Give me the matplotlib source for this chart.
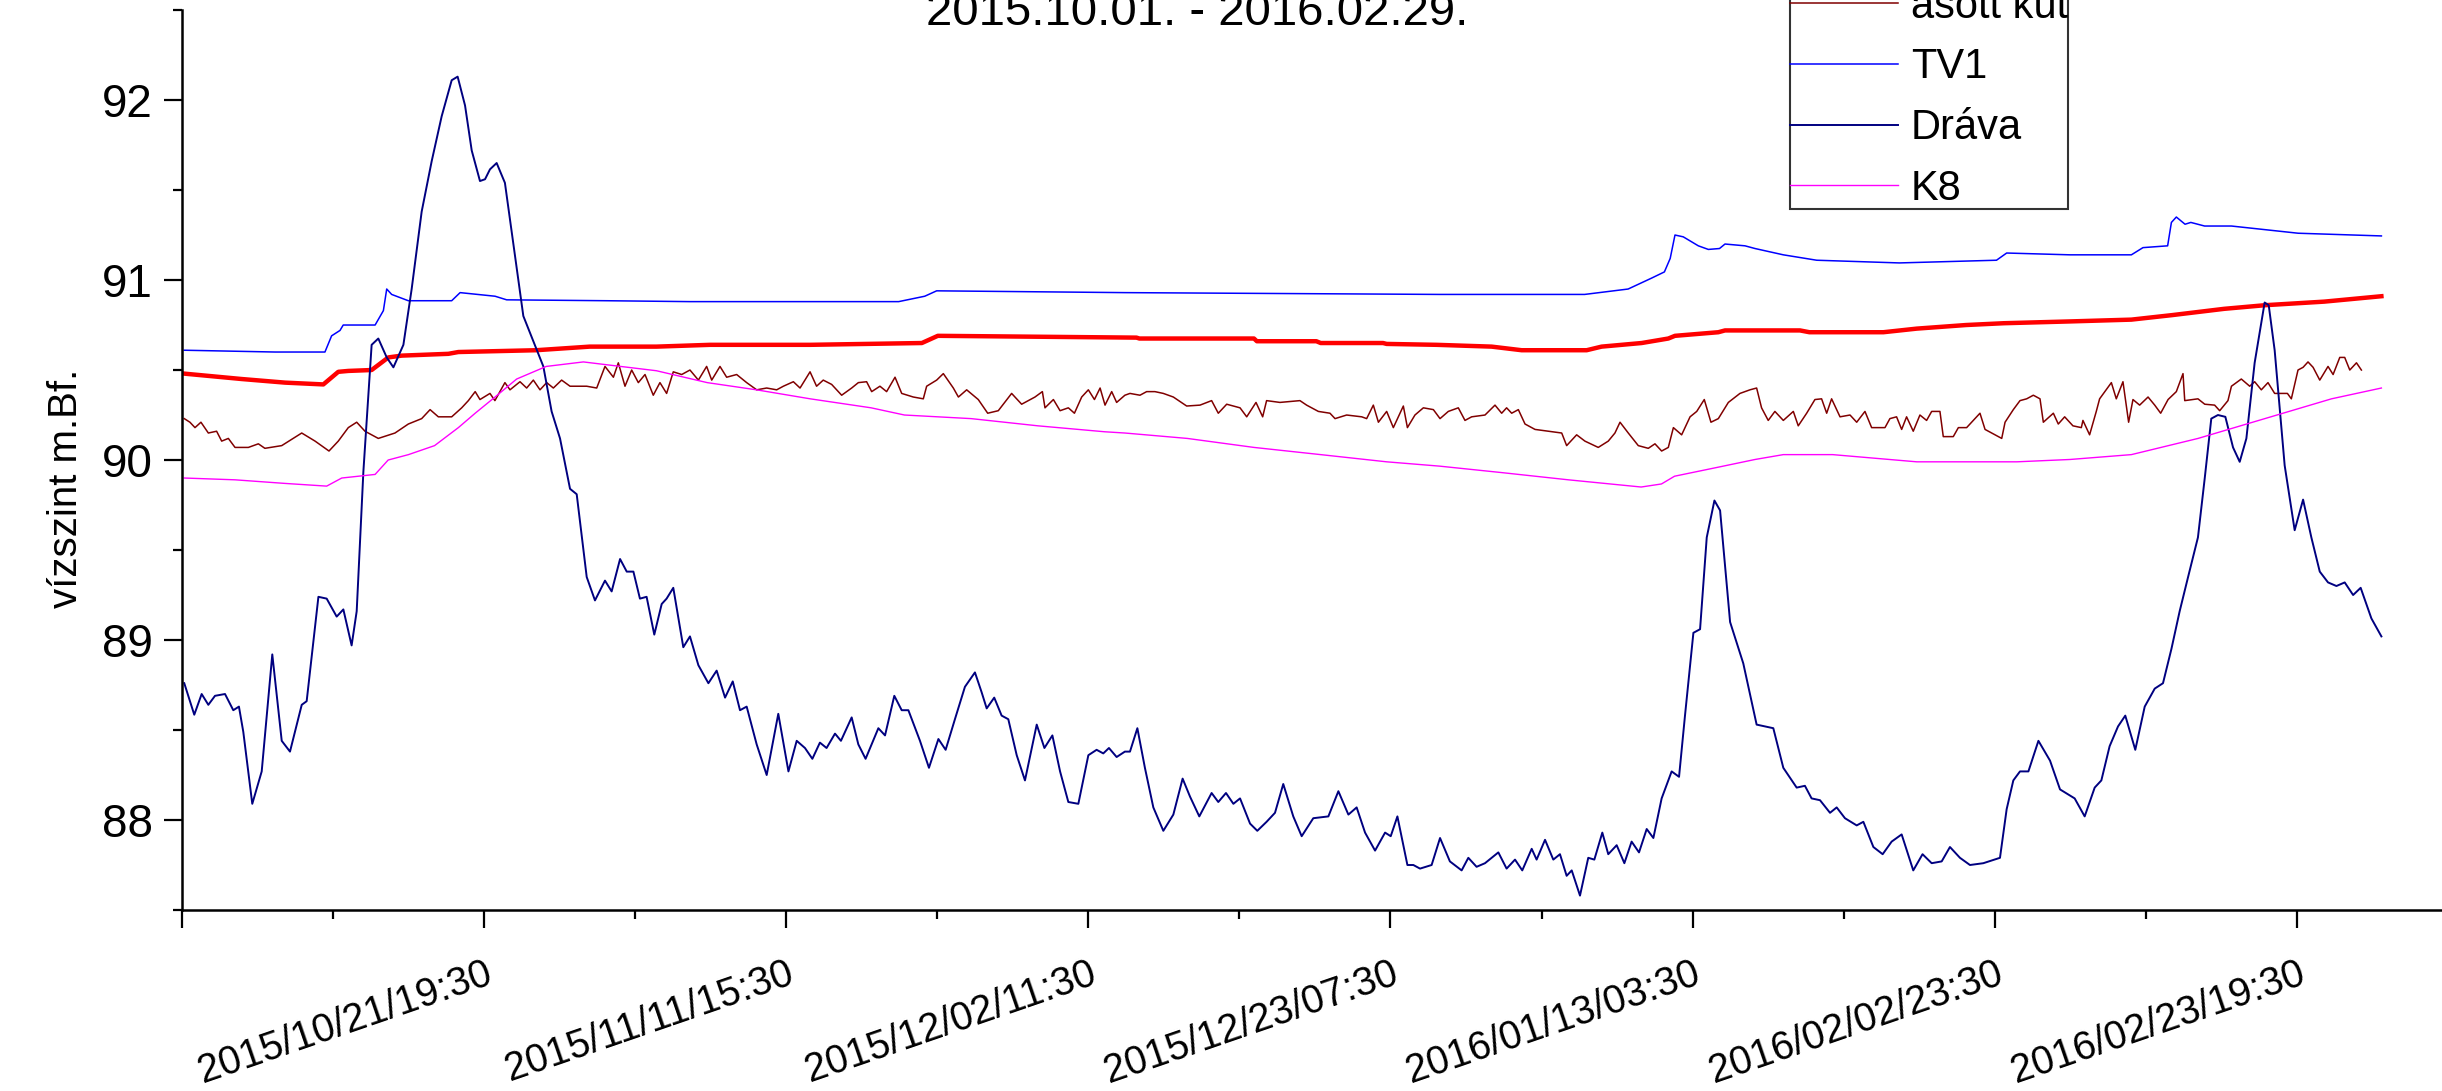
import matplotlib
matplotlib.use("Agg")
import matplotlib.pyplot as plt
import pandas as pd

plt.rcParams['font.family'] = ['Liberation Sans', 'DejaVu Sans']

start = pd.Timestamp("2015-10-01 00:00")

# Dráva - napok a kezdettől, vízszint (m.Bf.)
drava_nap = [0.14, 0.83, 1.34, 1.8, 2.26, 2.95, 3.52, 3.91, 4.21, 4.83, 5.48, 6.21, 6.86, 7.43, 8.24, 8.58,
             9.39, 9.96, 10.65, 11.11, 11.68, 12.03, 12.49, 13.06, 13.52, 14.1, 14.56, 15.25, 15.82, 16.51,
             17.2, 17.89, 18.58, 18.99, 19.5, 19.96, 20.53, 20.88, 21.22, 21.68, 22.25, 22.83, 23.52, 24.21,
             24.9, 25.47, 26.05, 26.74, 27.2, 27.89, 28.46, 29.15, 29.61, 30.19, 30.65, 31.11, 31.56, 32.02,
             32.55, 33.06, 33.4, 33.86, 34.55, 35.01, 35.59, 36.28, 36.85, 37.43, 37.96, 38.46, 38.92, 39.61,
             40.3, 41.1, 41.8, 42.37, 42.94, 43.45, 43.97, 44.43, 45.01, 45.42, 46.16, 46.62, 47.12, 48.0,
             48.46, 49.1, 49.61, 50.07, 50.87, 51.49, 52.14, 52.64, 53.28, 53.97, 54.66, 55.12, 55.47, 55.99,
             56.5, 56.96, 57.54, 58.11, 58.92, 59.45, 60.0, 60.53, 61.1, 61.79, 62.48, 63.05, 63.51, 63.9,
             64.43, 65.0, 65.35, 65.86, 66.38, 66.96, 67.65, 68.34, 68.98, 69.49, 70.13, 70.98, 71.44, 71.97,
             72.48, 72.94, 73.63, 74.13, 74.77, 75.35, 75.92, 76.61, 77.19, 77.99, 79.03, 79.72, 80.41, 80.98,
             81.56, 82.25, 82.94, 83.33, 83.79, 84.48, 84.89, 85.35, 86.15, 86.73, 87.41, 88.22, 88.68, 89.25,
             89.83, 90.75, 91.32, 91.9, 92.4, 93.05, 93.39, 93.97, 94.54, 95.0, 95.46, 95.81, 96.38, 96.95,
             97.37, 97.92, 98.33, 98.91, 99.44, 99.94, 100.45, 100.98, 101.44, 102.01, 102.7, 103.21, 103.62,
             104.2, 104.66, 105.12, 105.65, 106.04, 106.73, 107.64, 108.1, 108.56, 109.71, 110.4, 111.32,
             111.89, 112.35, 112.93, 113.62, 114.08, 114.65, 115.46, 115.92, 116.61, 117.25, 117.87, 118.56,
             119.36, 120.0, 120.63, 121.32, 121.89, 122.58, 123.27, 124.19, 125.34, 125.8, 126.26, 126.72,
             127.3, 127.99, 128.79, 129.48, 130.49, 131.18, 131.87, 132.33, 132.9, 133.48, 133.98, 134.67,
             135.32, 136.01, 136.58, 137.16, 137.73, 138.31, 138.99, 139.46, 139.91, 140.37, 140.88, 141.41,
             141.87, 142.33, 142.9, 143.59, 143.87, 144.28, 144.97, 145.66, 146.24, 146.81, 147.39, 147.96,
             148.54, 149.11, 149.69, 150.21, 150.95, 151.64]
drava_szint = [88.76, 88.585, 88.70, 88.64, 88.69, 88.70, 88.61, 88.63, 88.49, 88.09, 88.27, 88.92, 88.44, 88.38,
               88.64, 88.66, 89.24, 89.23, 89.13, 89.17, 88.97, 89.16, 89.935, 90.64, 90.675, 90.57, 90.515,
               90.64, 90.95, 91.38, 91.66, 91.91, 92.11, 92.13, 91.97, 91.72, 91.55, 91.56, 91.615, 91.65,
               91.54, 91.20, 90.80, 90.66, 90.52, 90.27, 90.12, 89.84, 89.81, 89.35, 89.22, 89.33, 89.27,
               89.45, 89.38, 89.38, 89.23, 89.24, 89.03, 89.20, 89.23, 89.29, 88.96, 89.02, 88.86, 88.76,
               88.83, 88.68, 88.77, 88.61, 88.63, 88.42, 88.25, 88.59, 88.27, 88.44, 88.40, 88.34, 88.43,
               88.40, 88.48, 88.44, 88.57, 88.42, 88.34, 88.51, 88.47, 88.69, 88.61, 88.61, 88.44, 88.29,
               88.45, 88.39, 88.56, 88.74, 88.82, 88.71, 88.62, 88.68, 88.58, 88.56, 88.36, 88.22, 88.53,
               88.40, 88.47, 88.27, 88.10, 88.09, 88.36, 88.39, 88.37, 88.40, 88.35, 88.38, 88.38, 88.51,
               88.29, 88.07, 87.94, 88.03, 88.23, 88.13, 88.02, 88.15, 88.10, 88.15, 88.09, 88.12, 87.98,
               87.94, 87.99, 88.04, 88.20, 88.02, 87.91, 88.01, 88.02, 88.16, 88.03, 88.07, 87.93, 87.83,
               87.93, 87.91, 88.02, 87.75, 87.75, 87.73, 87.75, 87.90, 87.77, 87.72, 87.79, 87.74, 87.76,
               87.82, 87.73, 87.78, 87.72, 87.84, 87.78, 87.89, 87.78, 87.81, 87.69, 87.72, 87.58, 87.79,
               87.78, 87.93, 87.81, 87.86, 87.76, 87.88, 87.82, 87.95, 87.90, 88.12, 88.27, 88.24, 88.58,
               89.04, 89.06, 89.57, 89.775, 89.72, 89.10, 88.87, 88.70, 88.53, 88.51, 88.29, 88.18, 88.19,
               88.12, 88.11, 88.04, 88.07, 88.01, 87.97, 87.99, 87.85, 87.81, 87.88, 87.92, 87.72, 87.81,
               87.76, 87.77, 87.85, 87.79, 87.75, 87.76, 87.79, 88.06, 88.22, 88.27, 88.27, 88.44, 88.33,
               88.17, 88.12, 88.02, 88.18, 88.22, 88.41, 88.52, 88.58, 88.39, 88.63, 88.73, 88.76, 88.95,
               89.16, 89.35, 89.57, 89.90, 90.23, 90.25, 90.24, 90.07, 89.99, 90.12, 90.54, 90.875, 90.86,
               90.61, 89.97, 89.61, 89.78, 89.57, 89.38, 89.32, 89.30, 89.32, 89.25, 89.29, 89.12, 89.02]

# TV1
tv1_nap = [0.14, 6.4, 9.84, 10.3, 10.88, 11.1, 13.3, 13.87, 14.1, 14.44, 15.59, 18.58, 19.16, 21.57, 22.37,
           29.27, 35.0, 43.3, 49.4, 51.2, 52.02, 65.0, 86.7, 96.7, 99.7, 101.3, 102.2, 102.6, 102.93, 103.5,
           104.54, 105.23, 106.0, 106.38, 107.76, 108.45, 110.4, 112.7, 118.4, 125.1, 125.8, 130.17, 134.4,
           135.2, 136.9, 137.16, 137.5, 138.1, 138.5, 139.45, 141.3, 143.6, 145.9, 151.64]
tv1_szint = [90.61, 90.60, 90.60, 90.69, 90.72, 90.75, 90.75, 90.83, 90.95, 90.92, 90.885, 90.885, 90.93,
             90.91, 90.89, 90.885, 90.88, 90.88, 90.88, 90.91, 90.94, 90.93, 90.92, 90.92, 90.95, 91.01,
             91.045, 91.12, 91.25, 91.24, 91.19, 91.17, 91.175, 91.20, 91.19, 91.175, 91.14, 91.11, 91.095,
             91.11, 91.15, 91.14, 91.14, 91.18, 91.19, 91.32, 91.35, 91.31, 91.32, 91.30, 91.30, 91.28,
             91.26, 91.245]

# piros vastag vonal (a jelmagyarázatban kivágott sor)
furt_nap = [0.14, 4.1, 7.09, 9.73, 10.76, 11.45, 13.06, 14.21, 15.13, 18.35, 19.04, 24.4, 28.1, 32.7, 36.4,
            43.3, 51.0, 52.1, 65.8, 66.0, 73.9, 74.1, 78.2, 78.5, 82.8, 83.05, 86.5, 90.29, 92.36, 96.84,
            97.87, 100.63, 102.47, 102.93, 105.92, 106.38, 111.55, 112.2, 117.3, 119.6, 123.0, 125.6,
            130.17, 134.4, 137.2, 140.8, 143.6, 147.7, 151.64]
furt_szint = [90.48, 90.45, 90.43, 90.42, 90.49, 90.495, 90.50, 90.57, 90.58, 90.59, 90.60, 90.61, 90.63,
              90.63, 90.64, 90.64, 90.65, 90.69, 90.68, 90.675, 90.675, 90.66, 90.66, 90.65, 90.65, 90.645,
              90.64, 90.63, 90.61, 90.61, 90.63, 90.65, 90.675, 90.69, 90.71, 90.72, 90.72, 90.71, 90.71,
              90.73, 90.75, 90.76, 90.77, 90.78, 90.805, 90.84, 90.86, 90.88, 90.91]

# K8
k8_nap = [0.14, 3.64, 7.09, 9.96, 11.0, 13.3, 14.2, 15.6, 17.4, 19.04, 20.2, 21.57, 23.06, 25.1, 27.66, 29.5,
          32.7, 36.2, 39.6, 43.3, 47.5, 49.8, 54.4, 59.0, 63.6, 65.0, 69.3, 73.9, 78.5, 83.05, 86.7, 91.0,
          95.58, 100.6, 102.0, 102.9, 105.9, 108.45, 110.4, 113.8, 119.6, 126.5, 130.17, 134.4, 139.0, 143.6,
          148.2, 151.64]
k8_szint = [89.90, 89.89, 89.87, 89.855, 89.90, 89.92, 90.00, 90.03, 90.08, 90.18, 90.26, 90.35, 90.45, 90.52,
            90.545, 90.527, 90.496, 90.43, 90.39, 90.34, 90.29, 90.25, 90.23, 90.19, 90.157, 90.15, 90.12,
            90.07, 90.03, 89.99, 89.966, 89.93, 89.89, 89.85, 89.867, 89.91, 89.96, 90.003, 90.03, 90.03,
            89.99, 89.99, 90.003, 90.03, 90.12, 90.23, 90.34, 90.40]

# ásott kút
asott_nap = [0.14, 0.53, 0.88, 1.29, 1.8, 2.37, 2.72, 3.18, 3.64, 4.56, 5.25, 5.7, 6.86, 8.24, 9.16, 10.12,
             10.76, 11.45, 12.03, 12.6, 13.52, 14.67, 15.59, 16.51, 17.09, 17.66, 18.58, 19.27, 19.73, 20.2,
             20.53, 21.22, 21.56, 22.25, 22.6, 23.29, 23.75, 24.21, 24.67, 25.13, 25.59, 26.16, 26.74, 27.89,
             28.58, 29.15, 29.73, 30.07, 30.53, 30.99, 31.45, 31.91, 32.48, 32.94, 33.4, 33.86, 34.44, 35.01,
             35.59, 36.16, 36.51, 37.08, 37.54, 38.23, 38.92, 39.61, 40.3, 40.99, 41.45, 42.14, 42.6, 43.29,
             43.74, 44.2, 44.78, 45.47, 46.16, 46.62, 47.19, 47.54, 48.11, 48.57, 49.15, 49.61, 50.41, 51.1,
             51.33, 52.02, 52.48, 53.17, 53.52, 54.09, 54.89, 55.54, 56.27, 57.19, 57.88, 58.8, 59.31, 59.49,
             60.07, 60.53, 61.1, 61.52, 62.02, 62.48, 62.9, 63.29, 63.63, 64.09, 64.43, 65.0, 65.35, 66.04,
             66.5, 67.07, 67.65, 68.34, 69.26, 70.18, 70.98, 71.44, 72.02, 72.94, 73.4, 74.04, 74.5, 74.77,
             75.69, 77.07, 77.53, 78.34, 79.14, 79.49, 80.29, 81.33, 81.67, 82.13, 82.48, 83.05, 83.51, 84.2,
             84.48, 85.0, 85.58, 86.27, 86.73, 87.3, 87.99, 88.45, 88.91, 89.83, 90.52, 90.98, 91.32, 91.67,
             92.13, 92.59, 93.28, 94.2, 95.12, 95.46, 96.15, 96.72, 97.64, 98.33, 98.79, 99.14, 99.71, 100.4,
             101.09, 101.55, 102.01, 102.47, 102.82, 103.39, 103.97, 104.43, 104.95, 105.41, 105.92, 106.61,
             107.41, 108.1, 108.56, 108.9, 109.36, 109.82, 110.4, 111.09, 111.43, 112.01, 112.58, 113.04,
             113.39, 113.73, 114.31, 115.0, 115.46, 116.03, 116.49, 117.41, 117.75, 118.21, 118.56, 118.9,
             119.36, 119.82, 120.28, 120.63, 121.2, 121.43, 122.12, 122.47, 123.04, 123.5, 123.96, 124.31,
             124.88, 125.46, 125.69, 126.26, 126.72, 127.18, 127.64, 128.1, 128.33, 129.02, 129.36, 129.8,
             130.37, 130.95, 131.06, 131.52, 131.98, 132.21, 133.02, 133.36, 133.82, 134.21, 134.51, 134.97,
             135.55, 136.01, 136.42, 136.93, 137.5, 137.96, 138.08, 138.99, 139.46, 140.14, 140.49, 141.06,
             141.3, 141.98, 142.56, 142.9, 143.36, 143.82, 144.28, 144.74, 145.16, 145.43, 145.89, 146.24,
             146.58, 146.93, 147.39, 147.96, 148.31, 148.77, 149.11, 149.46, 149.92, 150.26]
asott_szint = [90.23, 90.21, 90.18, 90.21, 90.15, 90.16, 90.105, 90.12, 90.07, 90.07, 90.09, 90.065, 90.08,
               90.15, 90.105, 90.05, 90.105, 90.18, 90.21, 90.16, 90.12, 90.15, 90.20, 90.23, 90.28, 90.24,
               90.24, 90.29, 90.33, 90.38, 90.336, 90.37, 90.33, 90.43, 90.39, 90.435, 90.40, 90.444, 90.39,
               90.43, 90.40, 90.444, 90.41, 90.41, 90.40, 90.52, 90.46, 90.54, 90.41, 90.50, 90.43, 90.475,
               90.36, 90.43, 90.37, 90.49, 90.475, 90.50, 90.444, 90.52, 90.444, 90.52, 90.46, 90.475, 90.43,
               90.39, 90.40, 90.39, 90.41, 90.435, 90.40, 90.49, 90.41, 90.444, 90.42, 90.36, 90.40, 90.43,
               90.435, 90.38, 90.41, 90.38, 90.46, 90.37, 90.35, 90.34, 90.41, 90.444, 90.48, 90.40, 90.35,
               90.39, 90.336, 90.26, 90.274, 90.37, 90.31, 90.35, 90.38, 90.29, 90.336, 90.274, 90.29, 90.26,
               90.35, 90.39, 90.336, 90.40, 90.305, 90.38, 90.32, 90.36, 90.37, 90.36, 90.38, 90.38, 90.37,
               90.35, 90.30, 90.305, 90.33, 90.26, 90.31, 90.29, 90.24, 90.32, 90.24, 90.33, 90.32, 90.33,
               90.305, 90.27, 90.26, 90.23, 90.25, 90.24, 90.23, 90.305, 90.21, 90.27, 90.18, 90.30, 90.18,
               90.25, 90.29, 90.28, 90.23, 90.27, 90.29, 90.22, 90.24, 90.25, 90.305, 90.26, 90.29, 90.26,
               90.28, 90.20, 90.17, 90.16, 90.15, 90.08, 90.14, 90.105, 90.07, 90.105, 90.15, 90.21, 90.15,
               90.08, 90.065, 90.09, 90.05, 90.07, 90.18, 90.14, 90.24, 90.27, 90.336, 90.21, 90.23, 90.32,
               90.37, 90.39, 90.40, 90.29, 90.22, 90.27, 90.22, 90.27, 90.19, 90.26, 90.336, 90.34, 90.26,
               90.34, 90.24, 90.25, 90.21, 90.27, 90.18, 90.18, 90.23, 90.24, 90.17, 90.24, 90.16, 90.25,
               90.22, 90.27, 90.27, 90.13, 90.13, 90.18, 90.18, 90.22, 90.26, 90.17, 90.145, 90.12, 90.21,
               90.28, 90.33, 90.34, 90.36, 90.34, 90.21, 90.26, 90.20, 90.24, 90.19, 90.18, 90.22, 90.14,
               90.27, 90.34, 90.43, 90.34, 90.435, 90.21, 90.336, 90.305, 90.35, 90.305, 90.26, 90.336, 90.38,
               90.48, 90.33, 90.34, 90.31, 90.305, 90.274, 90.33, 90.41, 90.45, 90.41, 90.435, 90.39, 90.43,
               90.37, 90.37, 90.37, 90.34, 90.50, 90.515, 90.545, 90.515, 90.444, 90.52, 90.475, 90.57, 90.57,
               90.50, 90.54, 90.50]


def idopont(napok):
    return start + pd.to_timedelta(napok, unit="D")


fig = plt.figure(figsize=(24.42, 10.91), dpi=100)
# a tengely jobbra és felfelé túlnyúlik a képen (kivágott ábra)
ax = fig.add_axes([0.0745, 0.1659, 0.9898, 0.8249])

l_furt, = ax.plot(idopont(furt_nap), furt_szint, color="#FF0000", lw=3.2, label="fúrt kút")
l_asott, = ax.plot(idopont(asott_nap), asott_szint, color="#800000", lw=1.1, label="ásott kút")
l_tv1, = ax.plot(idopont(tv1_nap), tv1_szint, color="#0000FF", lw=1.1, label="TV1")
l_drava, = ax.plot(idopont(drava_nap), drava_szint, color="#000080", lw=1.4, label="Dráva")
l_k8, = ax.plot(idopont(k8_nap), k8_szint, color="#FF00FF", lw=1.0, label="K8")

# x tengely: 500 óránkénti fő osztás, köztük mellékosztás
tick0 = pd.Timestamp("2015-09-30 23:30")
fo = [tick0 + pd.Timedelta(hours=500 * i) for i in range(9)]
mellek = [tick0 + pd.Timedelta(hours=250 + 500 * i) for i in range(8)]
cimkek = [""] + [t.strftime("%Y/%m/%d/%H:%M") for t in fo[1:8]] + [""]
ax.set_xticks(fo)
ax.set_xticks(mellek, minor=True)
ax.set_xticklabels(cimkek, rotation=19, ha="right", va="top", rotation_mode="anchor", fontsize=28.5)
ax.set_xlim(fo[0], fo[8])

ax.set_yticks([88, 89, 90, 91, 92])
ax.set_yticks([87.5, 88.5, 89.5, 90.5, 91.5, 92.5], minor=True)
ax.set_ylim(87.5, 92.5)
ax.tick_params(axis="y", labelsize=33, pad=8)
ax.tick_params(axis="x", pad=19)
ax.tick_params(which="major", length=13, width=1.6, direction="out")
ax.tick_params(which="minor", length=6.5, width=1.6, direction="out")

ax.spines["top"].set_visible(False)
ax.spines["right"].set_visible(False)
ax.spines["left"].set_linewidth(1.8)
ax.spines["bottom"].set_linewidth(1.8)

fig.text(66 / 2442, 1 - 488 / 1091, "vízszint m.Bf.", rotation=90, ha="center", va="center",
         fontsize=29, family=["Liberation Sans Narrow", "Liberation Sans"])
fig.text(1197 / 2442, 1 - 25 / 1091, "2015.10.01. - 2016.02.29.", ha="center", va="baseline", fontsize=34)

leg = ax.legend(handles=[l_furt, l_asott, l_tv1, l_drava, l_k8], loc="lower left",
                bbox_to_anchor=(1790 / 2442, 1 - 209 / 1091), bbox_transform=fig.transFigure,
                fontsize=30, frameon=True, fancybox=False, borderaxespad=0, borderpad=0.0,
                labelspacing=0.5, handlelength=2.6, handletextpad=0.3)
leg.get_frame().set_edgecolor("black")
leg.get_frame().set_linewidth(1.5)

fig.savefig("out.png", dpi=100)
